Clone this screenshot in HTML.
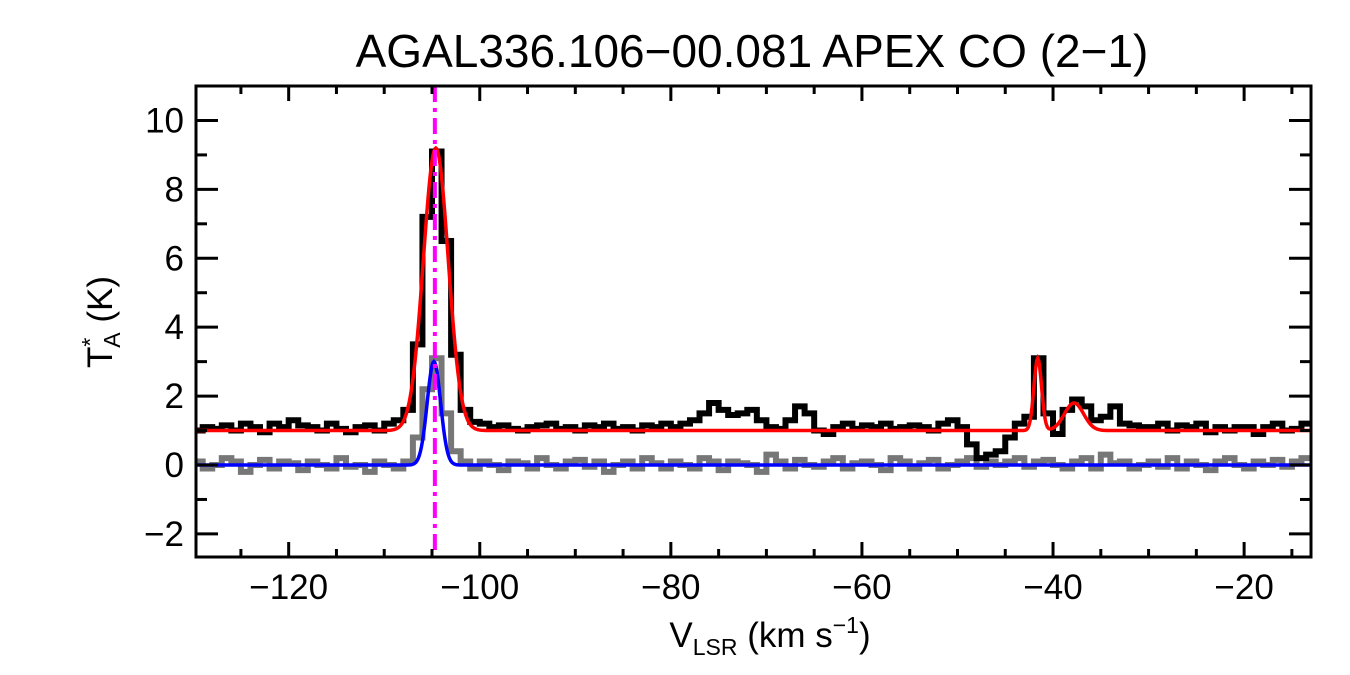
<!DOCTYPE html>
<html><head><meta charset="utf-8"><style>
body{margin:0;background:#fff}
svg{display:block;font-family:"Liberation Sans",sans-serif}
</style></head><body>
<svg id="chart" width="1350" height="675" viewBox="0 0 1350 675">
<text x="752" y="67" font-size="46" text-anchor="middle">AGAL336.106−00.081  APEX CO (2−1)</text>
<g id="plot"></g>
<text x="770" y="647" font-size="35" text-anchor="middle">V<tspan font-size="23" dy="8">LSR</tspan><tspan dy="-8"> (km s</tspan><tspan font-size="23" dy="-14">−1</tspan><tspan dy="14">)</tspan></text>
<text transform="translate(112,322) rotate(-90)" font-size="35" text-anchor="middle">T<tspan font-size="23" dy="-14">*</tspan><tspan font-size="23" dx="-10" dy="22">A</tspan><tspan dy="-8"> (K)</tspan></text>
</svg>
<script>
const xStart = -129.5, chanW = 1;
const coSpectrum = [1.0,1.1,1.05,1.15,1.0,1.2,1.1,0.95,1.2,1.1,1.3,1.15,1.1,1.0,1.2,1.05,0.95,1.1,1.15,1.0,
1.2,1.3,1.6,3.5,7.2,9.1,6.5,3.2,1.6,1.25,
1.2,1.1,1.15,1.05,1.0,1.1,1.15,1.2,1.05,1.1,1.0,1.15,1.1,1.2,1.05,1.1,1.0,1.15,1.1,1.2,
1.1,1.2,1.3,1.5,1.8,1.6,1.45,1.5,1.6,1.3,1.1,1.05,1.3,1.7,1.5,1.0,0.9,1.1,1.2,1.05,
1.15,1.1,1.2,1.05,1.1,1.15,1.1,1.0,1.2,1.3,1.1,0.6,0.2,0.3,0.4,0.8,1.2,1.4,3.1,1.5,
0.9,1.6,1.9,1.7,1.3,1.4,1.7,1.2,1.15,1.1,1.1,1.2,1.0,1.15,1.1,1.2,0.95,1.1,1.0,1.1,
1.1,0.9,1.1,1.2,1.0,1.05,1.2];
const isoSpectrum = [0.1,-0.1,0.0,0.2,0.1,-0.2,0.0,0.15,-0.1,0.1,0.05,-0.15,0.1,0.0,-0.1,0.2,-0.05,0.0,-0.2,0.1,
0.0,-0.1,0.1,0.8,2.2,3.1,1.5,0.4,0.1,-0.1,
0.1,0.0,-0.15,0.1,0.05,-0.1,0.2,0.0,-0.1,0.1,0.15,-0.05,0.1,-0.2,0.0,0.1,-0.1,0.2,0.05,-0.1,
0.1,0.0,-0.1,0.2,0.1,-0.15,0.1,0.05,0.0,-0.2,0.3,0.1,-0.1,0.15,0.0,-0.05,0.1,0.2,-0.1,0.05,
0.1,0.0,-0.15,0.2,0.1,-0.1,0.05,0.15,-0.1,0.0,0.1,0.2,-0.05,0.1,0.0,0.1,0.2,-0.05,0.1,0.15,
0.0,-0.1,0.1,0.2,-0.1,0.3,0.05,0.1,-0.1,0.0,0.1,-0.05,0.2,-0.1,0.1,0.0,-0.15,0.1,0.2,0.0,
-0.1,0.1,0.0,0.15,-0.05,0.1,0.2];
const coFitOffset = 1.0;
const coFitAmp = [8.2, 2.1, 0.8];
const coFitCenter = [-104.6, -41.6, -37.8];
const coFitSigma = [1.3, 0.4, 1.0];
const isoFitAmp = [3.0];
const isoFitCenter = [-104.8];
const isoFitSigma = [0.7];
const vlsr = -104.7;
const xTicks = [-120,-100,-80,-60,-40,-20];
const yTicks = [-2,0,2,4,6,8,10];

const L=196,R=1311,T=86,B=557, xMin=-129.7,xMax=-13,yMin=-2.67,yMax=11;
const X=v=>L+(v-xMin)/(xMax-xMin)*(R-L);
const Y=v=>B-(v-yMin)/(yMax-yMin)*(B-T);
const NS="http://www.w3.org/2000/svg";
const g=document.getElementById('plot');
function mk(tag,attrs){const e=document.createElementNS(NS,tag);for(const k in attrs)e.setAttribute(k,attrs[k]);g.appendChild(e);return e;}
const clip=mk('clipPath',{id:'cp'});
const cr=document.createElementNS(NS,'rect');cr.setAttribute('x',L);cr.setAttribute('y',T);cr.setAttribute('width',R-L);cr.setAttribute('height',B-T);clip.appendChild(cr);
function stepPath(arr){let d='';arr.forEach((v,i)=>{const x0=X(xStart+i*chanW-chanW/2),x1=X(xStart+i*chanW+chanW/2),y=Y(v);d+=(i?'L':'M')+x0+','+y+'L'+x1+','+y;});return d;}
function fitPath(off,A,C,S){let d='';for(let v=xMin;v<=xMax;v+=0.1){let y=off;for(let k=0;k<A.length;k++)y+=A[k]*Math.exp(-0.5*((v-C[k])/S[k])**2);d+=(d?'L':'M')+X(v)+','+Y(y);}return d;}
let e;
e=mk('path',{d:stepPath(isoSpectrum),fill:'none',stroke:'#777',"stroke-width":6,"clip-path":'url(#cp)'});


e=mk('path',{d:stepPath(coSpectrum),fill:'none',stroke:'#000',"stroke-width":6,"clip-path":'url(#cp)'});


e=mk('path',{d:fitPath(coFitOffset,coFitAmp,coFitCenter,coFitSigma),fill:'none',stroke:'#f00',"stroke-width":3.5});


e=mk('path',{d:fitPath(0,isoFitAmp,isoFitCenter,isoFitSigma),fill:'none',stroke:'#00f',"stroke-width":3.5});


e=mk('line',{x1:X(vlsr),x2:X(vlsr),y1:T,y2:B,stroke:'#f0f',"stroke-width":4,"stroke-dasharray":'16,6,4,6'});


e=mk('rect',{x:L,y:T,width:R-L,height:B-T,fill:'none',stroke:'#000',"stroke-width":3});


for(let v=-125;v<=-15;v+=5){const maj=v%20===0,len=maj?15:8,x=X(v);
 e=mk('line',{x1:x,x2:x,y1:B,y2:B-len,stroke:'#000',"stroke-width":3});
 
 
 e=mk('line',{x1:x,x2:x,y1:T,y2:T+len,stroke:'#000',"stroke-width":3});
 
 }
xTicks.forEach(v=>{e=mk('text',{x:X(v),y:599,"font-size":35,"text-anchor":'middle'});e.textContent=String(v).replace('-','−');
 
 });
for(let v=-2;v<=10;v+=1){const maj=v%2===0,len=maj?22:11,y=Y(v);
 e=mk('line',{x1:L,x2:L+len,y1:y,y2:y,stroke:'#000',"stroke-width":3});
 
 
 e=mk('line',{x1:R,x2:R-len,y1:y,y2:y,stroke:'#000',"stroke-width":3});
 
 }
yTicks.forEach(v=>{e=mk('text',{x:184,y:Y(v)+12,"font-size":35,"text-anchor":'end'});e.textContent=String(v).replace('-','−');
 
 });
</script>
</body></html>
